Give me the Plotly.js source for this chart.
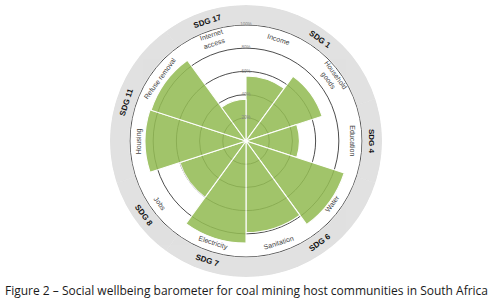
<!DOCTYPE html>
<html>
<head>
<meta charset="utf-8">
<script src="https://cdn.plot.ly/plotly-3.0.1.min.js"></script>
<style>html,body{margin:0;padding:0;background:#fff;}#chart{width:495px;height:307px;}</style>
</head>
<body>
<div id="chart"></div>
<script>
const categories = ['Income','Household<br>goods','Education','Water','Sanitation','Electricity','Jobs','Housing','Refuse removal','Internet<br>access'];
const values = [56, 69, 46, 89, 79, 88, 60, 87, 86, 36];
const tickVals = [20, 40, 60, 80, 100];
const tickText = ['20%', '40%', '60%', '80%', '100%'];
const sdgLabels = ['SDG 1', 'SDG 4', 'SDG 6', 'SDG 7', 'SDG 8', 'SDG 11', 'SDG 17'];
const sdgAngles = [36, 90, 144, 198, 234, 288, 342];
const caption = 'Figure 2 \u2013 Social wellbeing barometer for coal mining host communities in South Africa';

// geometry
const W = 495, H = 307;
const CX = 246, CY = 141, RPX = 136;
const RMAX = 117.2;
const SEG = 360 / categories.length;
const thetas = categories.map((c, i) => i * SEG + SEG / 2);

function toPaper(th, r) {
  const px = r / RMAX * RPX;
  const a = th * Math.PI / 180;
  return [(CX + px * Math.sin(a)) / W, 1 - (CY - px * Math.cos(a)) / H];
}
function tangent(th) {
  if (th <= 90) return th;
  if (th < 270) return th - 180;
  return th - 360;
}

const annotations = [];
categories.forEach((c, i) => {
  const p = toPaper(thetas[i], 92);
  annotations.push({xref: 'paper', yref: 'paper', x: p[0], y: p[1], text: c, showarrow: false,
    xanchor: 'center', yanchor: 'middle', textangle: tangent(thetas[i]),
    font: {family: 'Liberation Sans, Arial, sans-serif', size: 7, color: '#444'}});
});
sdgLabels.forEach((s, i) => {
  const p = toPaper(sdgAngles[i], 108.6);
  annotations.push({xref: 'paper', yref: 'paper', x: p[0], y: p[1], text: '<b>' + s + '</b>', showarrow: false,
    xanchor: 'center', yanchor: 'middle', textangle: tangent(sdgAngles[i]),
    font: {family: 'Liberation Sans, Arial, sans-serif', size: 8, color: '#111'}});
});
annotations.push({xref: 'paper', yref: 'paper', x: 246 / W, y: 1 - 290 / H, text: caption, showarrow: false,
  xanchor: 'center', yanchor: 'middle', font: {family: 'Open Sans, sans-serif', size: 12, color: '#1a1a1a'}});

const data = [
  {type: 'barpolar', theta: thetas, r: categories.map(() => RMAX - 100.6), base: 100.6, width: SEG,
   marker: {color: '#e1e1e1', line: {color: '#e1e1e1', width: 0.5}}, hoverinfo: 'skip', showlegend: false},
  {type: 'barpolar', theta: thetas, r: values, width: SEG, opacity: 0.87,
   marker: {color: 'rgb(148,188,84)', line: {color: '#ffffff', width: 1.1}}, showlegend: false},
  {type: 'scatterpolar', mode: 'text', r: tickVals, theta: tickVals.map(() => 0), text: tickText,
   textposition: 'middle center', textfont: {family: 'Liberation Sans, Arial, sans-serif', size: 4.5, color: '#888'},
   hoverinfo: 'skip', showlegend: false}
];

const layout = {
  width: W, height: H, margin: {l: 0, r: 0, t: 0, b: 0},
  paper_bgcolor: '#fff', showlegend: false,
  polar: {
    domain: {x: [(CX - RPX) / W, (CX + RPX) / W], y: [1 - (CY + RPX) / H, 1 - (CY - RPX) / H]},
    bgcolor: '#ffffff',
    bargap: 0,
    radialaxis: {range: [0, RMAX], tickvals: tickVals, showticklabels: false, ticks: '', showline: false,
      gridcolor: '#3a3a3a', gridwidth: 0.9, layer: 'below traces'},
    angularaxis: {rotation: 90, direction: 'clockwise', showgrid: false, showticklabels: false, ticks: '', showline: false}
  },
  annotations: annotations
};
Plotly.newPlot('chart', data, layout, {displayModeBar: false, staticPlot: true});
</script>
</body>
</html>
